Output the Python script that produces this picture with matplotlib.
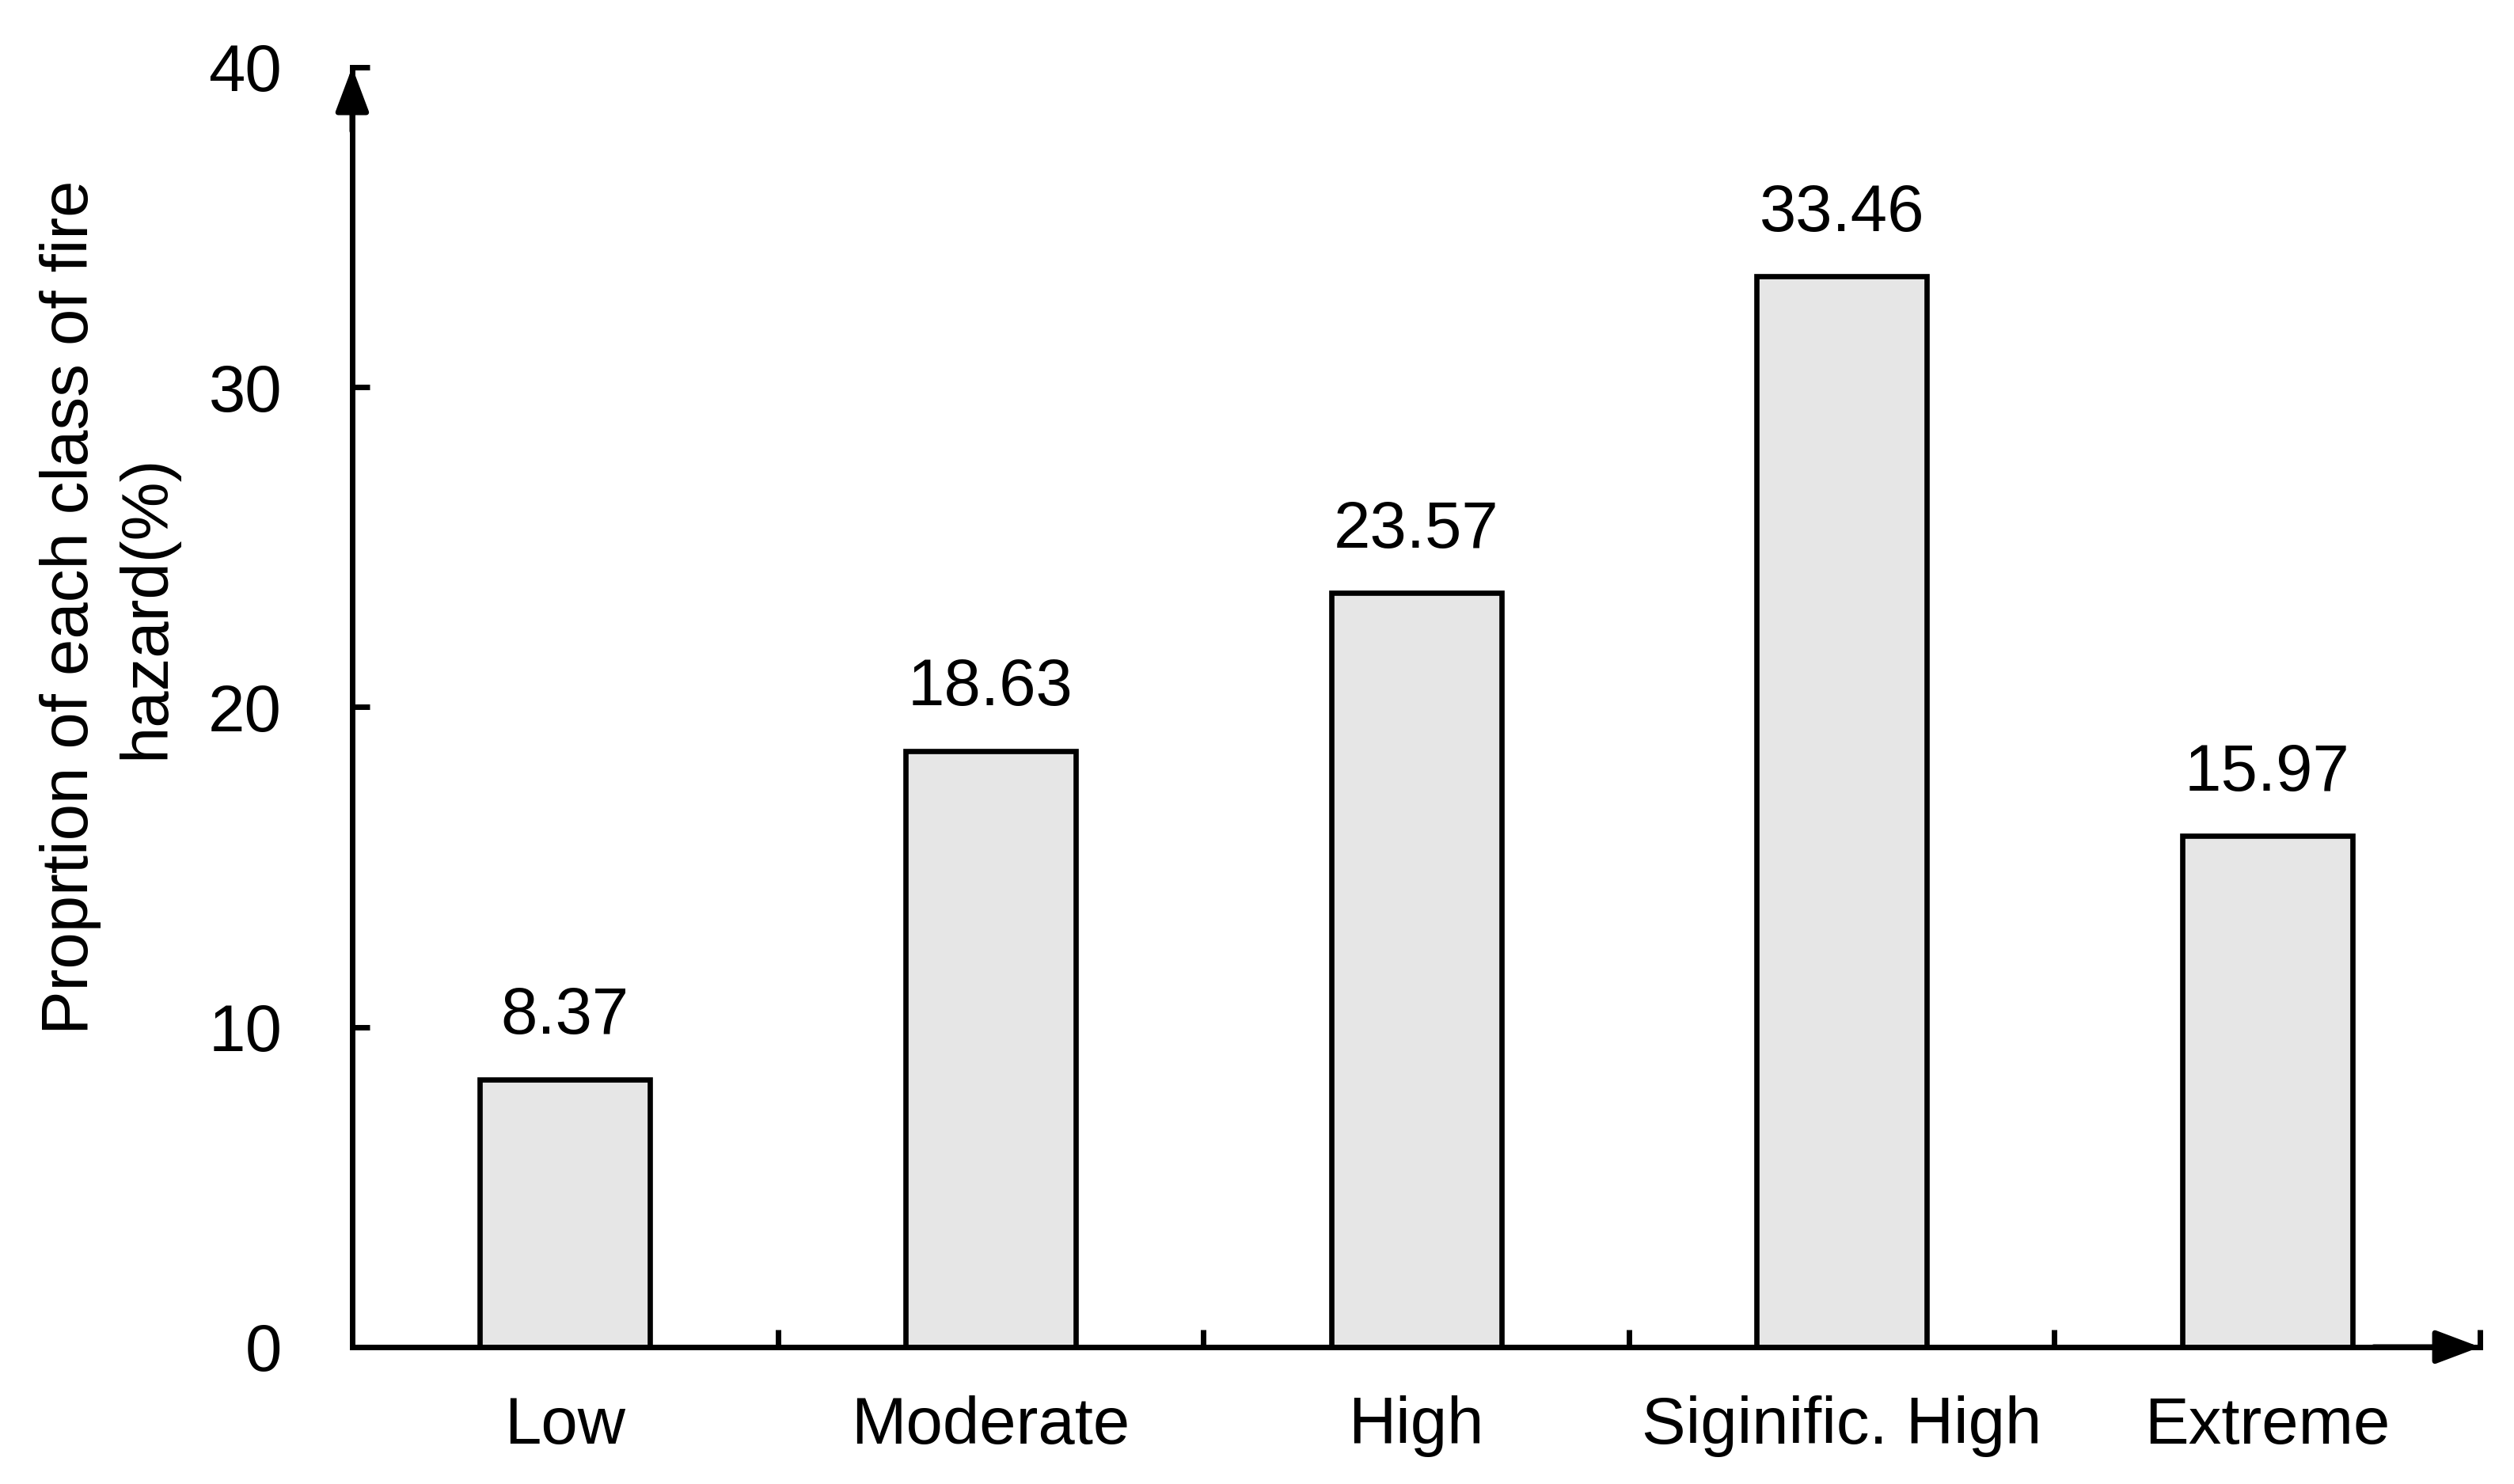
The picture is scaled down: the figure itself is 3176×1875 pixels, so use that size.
import matplotlib
matplotlib.use("Agg")
import matplotlib.pyplot as plt

plt.rcParams['font.family'] = ['Liberation Sans', 'DejaVu Sans']

classes = ["Low", "Moderate", "High", "Siginific. High", "Extreme"]
shares = [8.37, 18.63, 23.57, 33.46, 15.97]
y_ticks = [0, 10, 20, 30, 40]

fig = plt.figure(figsize=(15.88, 9.375), dpi=200)
ax = fig.add_axes([0.1401, 0.0923, 0.8464, 0.8624])

pos = list(range(len(classes)))
bars = ax.bar(pos, shares, width=0.4, color='#e6e6e6', edgecolor='black', linewidth=2.4, zorder=2)
for b, v in zip(bars, shares):
    ax.text(b.get_x() + b.get_width() / 2, v + 1.0, f"{v:.2f}", ha='center', va='bottom', fontsize=30)

ax.set_xlim(-0.5, len(classes) - 0.5)
ax.set_ylim(0, 40)

# spines + arrows
for s in ['top', 'right']:
    ax.spines[s].set_visible(False)
for s in ['left', 'bottom']:
    ax.spines[s].set_linewidth(2.5)
    ax.spines[s].set_zorder(3)

arrow = dict(arrowstyle='-|>,head_length=0.85,head_width=0.32', color='k', lw=2.5,
             shrinkA=0, shrinkB=0, mutation_scale=20)
ax.annotate('', xy=(1, 0), xytext=(0.95, 0), xycoords='axes fraction', arrowprops=arrow, annotation_clip=False)
ax.annotate('', xy=(0, 1), xytext=(0, 0.95), xycoords='axes fraction', arrowprops=arrow, annotation_clip=False)

ax.set_yticks(y_ticks)
ax.tick_params(axis='y', direction='in', length=8, width=2.5, labelsize=30, pad=32)

# boundary ticks on x, labels at centres
ax.set_xticks([p + 0.5 for p in pos])
ax.set_xticklabels([])
ax.tick_params(axis='x', which='major', direction='in', length=8, width=2.5)
ax.set_xticks(pos, minor=True)
ax.set_xticklabels(classes, minor=True)
ax.tick_params(axis='x', which='minor', length=0, labelsize=30, pad=22)

ax.set_ylabel("Proprtion of each class of fire\nhazard(%)", fontsize=30, linespacing=1.3)
ax.yaxis.set_label_coords(-0.082, 0.578)

fig.savefig("out.png", dpi=200)
